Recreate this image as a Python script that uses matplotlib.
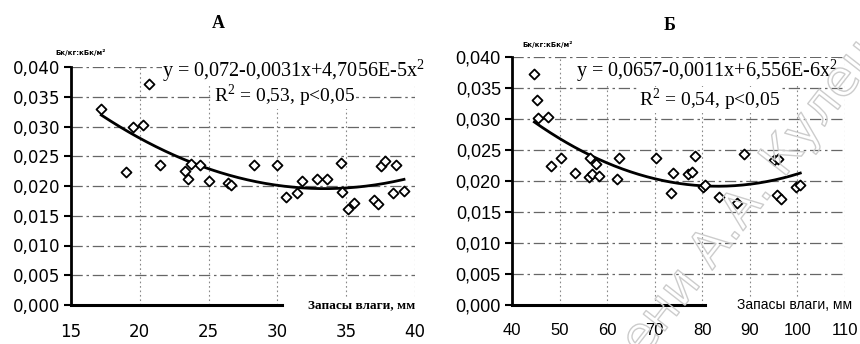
import numpy as np
import matplotlib
matplotlib.use("Agg")
import matplotlib.pyplot as plt
import matplotlib.patheffects as pe

# ---- data: panel A ----
a_x = [17.2, 19.0, 19.5, 20.2, 20.7, 21.5, 23.3, 23.5, 23.7, 24.4, 25.0, 26.4, 26.6,
       28.3, 30.0, 30.6, 31.4, 31.8, 32.9, 33.6, 34.6, 34.7, 35.1, 35.6, 37.0, 37.3,
       37.5, 37.8, 38.6, 38.4, 39.2]
a_y = [0.0330, 0.0223, 0.0299, 0.0302, 0.0372, 0.0235, 0.0226, 0.0212, 0.0237, 0.0235,
       0.0208, 0.0205, 0.0201, 0.0235, 0.0235, 0.0182, 0.0189, 0.0208, 0.0212, 0.0212,
       0.0239, 0.0190, 0.0161, 0.0172, 0.0176, 0.0170, 0.0233, 0.0242, 0.0235, 0.0189,
       0.0191]
# ---- data: panel B ----
b_x = [44.7, 45.2, 45.5, 47.6, 48.1, 50.3, 53.3, 56.1, 56.5, 56.8, 57.7, 58.2, 62.0,
       62.4, 70.2, 73.5, 73.8, 76.9, 77.9, 78.4, 80.2, 80.5, 83.6, 87.4, 88.7, 95.1,
       95.9, 95.7, 96.5, 99.7, 100.6]
b_y = [0.0372, 0.0331, 0.0301, 0.0303, 0.0224, 0.0237, 0.0213, 0.0207, 0.0237, 0.0211,
       0.0228, 0.0208, 0.0203, 0.0237, 0.0237, 0.0181, 0.0213, 0.0211, 0.0214, 0.0240,
       0.0191, 0.0194, 0.0174, 0.0164, 0.0243, 0.0234, 0.0236, 0.0177, 0.0171, 0.0190,
       0.0193]

a_xticks = [15, 20, 25, 30, 35, 40]
b_xticks = [40, 50, 60, 70, 80, 90, 100, 110]
yticks = [0.000, 0.005, 0.010, 0.015, 0.020, 0.025, 0.030, 0.035, 0.040]

a_eq = "y = 0,072-0,0031x+4,7056E-5x$^{\\mathregular{2}}$"
a_r2 = "R$^{\\mathregular{2}}$ = 0,53, p<0,05"
b_eq = "y = 0,0657-0,0011x+6,556E-6x$^{\\mathregular{2}}$"
b_r2 = "R$^{\\mathregular{2}}$ = 0,54, p<0,05"
unit = "Бк/кг:кБк/м²"
xlabel = "Запасы влаги, мм"

W, H = 860, 344
fig = plt.figure(figsize=(W / 100, H / 100), dpi=100)

def rect(x0, x1, ytop, ybot):
    return [x0 / W, 1 - ybot / H, (x1 - x0) / W, (ybot - ytop) / H]

def panel(ax, xs, ys, xticks, xr, fs, xfs, fam):
    ax.set_xlim(*xr)
    ax.set_ylim(0, 0.040)
    for s in ["top", "right", "bottom"]:
        ax.spines[s].set_visible(False)
    ax.spines["left"].set_linewidth(2.0)
    ax.set_yticks(yticks)
    ax.set_yticklabels([f"{v:.3f}".replace(".", ",") for v in yticks], fontsize=fs,
                       family=fam)
    ax.set_xticks(xticks)
    ax.set_xticklabels([str(v) for v in xticks], fontsize=xfs, family=fam)
    ax.tick_params(axis="y", length=5, width=1.5, direction="out", pad=3)
    ax.tick_params(axis="x", length=0, pad=13)
    for v in yticks[1:]:
        ax.axhline(v, color="#666666", lw=0.9, ls=(0, (9, 3, 2, 3)), zorder=0)
    for v in xticks[1:]:
        ax.axvline(v, color="#888888", lw=0.8, ls=(0, (1.5, 2.5)), zorder=0)
    ax.scatter(xs, ys, marker="D", s=26, facecolor="white", edgecolor="black",
               linewidth=1.3, zorder=3)
    c = np.polyfit(xs, ys, 2)
    xx = np.linspace(min(xs), max(xs), 200)
    ax.plot(xx, np.polyval(c, xx), color="black", lw=2.0, zorder=2)

axA = fig.add_axes(rect(71, 415, 67, 305))
panel(axA, a_x, a_y, a_xticks, (15, 40), 12, 12, "DejaVu Sans")
axA.plot([15, 30.3], [0, 0], color="black", lw=2.2, clip_on=False, zorder=4)
axA.text(1.0, 0.0, xlabel, transform=axA.transAxes, ha="right", va="center",
         fontsize=9.5, fontweight="bold", family="Liberation Serif",
         bbox=dict(facecolor="white", edgecolor="none", pad=1), zorder=5)

axB = fig.add_axes(rect(512, 845, 57, 305))
panel(axB, b_x, b_y, b_xticks, (40, 110), 13, 12, "Liberation Sans")
axB.plot([40, 80.5], [0, 0], color="black", lw=2.2, clip_on=False, zorder=4)
axB.text(1.02, 0.0, xlabel, transform=axB.transAxes, ha="right", va="center",
         fontsize=10, family="Liberation Sans",
         bbox=dict(facecolor="white", edgecolor="none", pad=1), zorder=5)

serif = "Liberation Serif"
fig.text(218 / W, 1 - 23 / H, "А", ha="center", va="center", fontsize=13,
         fontweight="bold", family=serif)
fig.text(670 / W, 1 - 25 / H, "Б", ha="center", va="center", fontsize=13,
         fontweight="bold", family=serif)

fig.text(425 / W, 1 - 71 / H, a_eq, ha="right", va="center", fontsize=14.5, family=serif,
         bbox=dict(facecolor="white", edgecolor="none", pad=0))
fig.text(285 / W, 1 - 96 / H, a_r2, ha="center", va="center", fontsize=14, family=serif,
         bbox=dict(facecolor="white", edgecolor="none", pad=0))
fig.text(838 / W, 1 - 71 / H, b_eq, ha="right", va="center", fontsize=14.5, family=serif,
         bbox=dict(facecolor="white", edgecolor="none", pad=0))
fig.text(710 / W, 1 - 100 / H, b_r2, ha="center", va="center", fontsize=14, family=serif,
         bbox=dict(facecolor="white", edgecolor="none", pad=0))

fig.text(55 / W, 1 - 52 / H, unit, ha="left", va="center", fontsize=5, fontweight="bold")
fig.text(522 / W, 1 - 45 / H, unit, ha="left", va="center", fontsize=5, fontweight="bold")

wm = fig.text(765 / W, 1 - 180 / H, "ени А.А. Кулешо", ha="center", va="center",
              fontsize=36, rotation=52, color=(1, 1, 1, 0), zorder=10,
              family="DejaVu Sans")
wm.set_path_effects([pe.Stroke(linewidth=1.0, foreground="#cccccc")])

fig.savefig("out.png", dpi=100, facecolor="white")
